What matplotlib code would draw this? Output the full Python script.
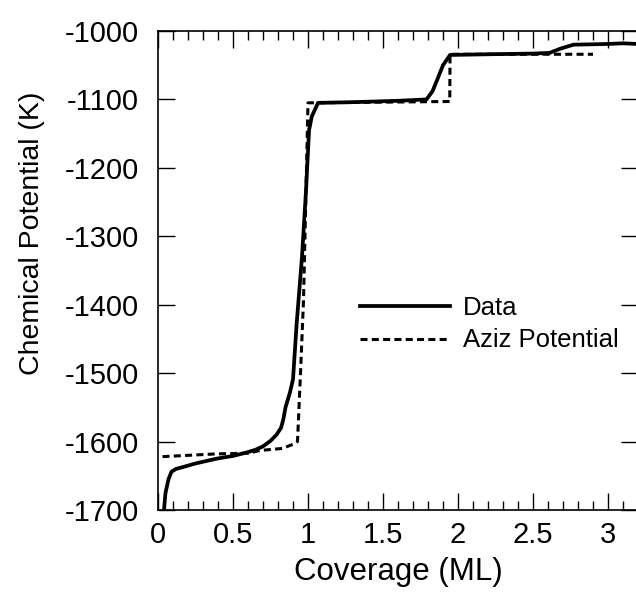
import matplotlib
matplotlib.use("Agg")
import matplotlib.pyplot as plt
from matplotlib.ticker import MultipleLocator

plt.rcParams['font.family'] = ['Liberation Sans', 'DejaVu Sans']
plt.rcParams['axes.unicode_minus'] = False

# Measured data (solid)
data_x = [0.04, 0.05, 0.07, 0.09, 0.12, 0.17, 0.25, 0.39, 0.50, 0.59, 0.65, 0.70, 0.75,
          0.79, 0.82, 0.835, 0.85, 0.88, 0.90, 0.925, 0.96, 0.987, 1.007, 1.025, 1.067, 1.30,
          1.60, 1.79, 1.83, 1.86, 1.90, 1.947, 2.20, 2.50, 2.61, 2.68, 2.77, 2.99, 3.10, 3.20]
data_y = [-1700, -1675, -1655, -1644, -1640, -1637, -1632, -1625, -1621, -1616, -1612, -1607, -1599,
          -1590, -1580, -1568, -1550, -1528, -1509, -1426, -1330, -1232, -1145, -1125, -1105, -1104,
          -1102, -1100, -1088, -1072, -1050, -1035, -1034, -1033, -1032, -1026, -1020, -1019, -1018, -1019]

# Aziz potential (dashed)
aziz_x = [0.03, 0.39, 0.60, 0.68, 0.83, 0.90, 0.93, 0.95, 0.97, 0.985, 1.00, 1.50, 1.945, 1.947, 2.50, 2.90]
aziz_y = [-1622, -1618, -1617, -1613, -1610, -1604, -1600, -1500, -1394, -1250, -1105, -1104, -1103, -1034, -1034, -1034]

x_ticks = [0, 0.5, 1, 1.5, 2, 2.5, 3]
x_tick_labels = ['0', '0.5', '1', '1.5', '2', '2.5', '3']
y_ticks = [-1700, -1600, -1500, -1400, -1300, -1200, -1100, -1000]

fig = plt.figure(figsize=(6.36, 6.03), dpi=100)
ax = fig.add_axes([158/636, 93/603, 480/636, 479/603])

ax.plot(data_x, data_y, color='black', lw=2.7, solid_joinstyle='round', label='Data')
ax.plot(aziz_x, aziz_y, color='black', lw=2.2, dashes=(2.3, 1.4), label='Aziz Potential')

ax.set_xlim(0, 3.2)
ax.set_ylim(-1700, -1000)
ax.set_xticks(x_ticks)
ax.set_xticklabels(x_tick_labels)
ax.set_yticks(y_ticks)
ax.xaxis.set_minor_locator(MultipleLocator(0.1))

ax.tick_params(axis='both', which='major', direction='in', length=12, width=1,
               labelsize=21, top=True, right=True)
ax.tick_params(axis='y', which='major', pad=14)
ax.tick_params(axis='x', which='major', pad=8)
ax.tick_params(axis='x', which='minor', direction='in', length=6.5, width=1, top=True, bottom=True)
ax.tick_params(axis='y', which='minor', left=False, right=False)

for s in ax.spines.values():
    s.set_linewidth(1.2)

ax.set_xlabel('Coverage (ML)', fontsize=22.5, labelpad=6)
ax.set_ylabel('Chemical Potential (K)', fontsize=20.5)
ax.yaxis.set_label_coords((45-158)/480, (510-233)/479)

ax.legend(loc='center left', bbox_to_anchor=((360-158)/480, (510-324)/479), frameon=False,
          fontsize=18.5, handlelength=3.5, handletextpad=0.5, labelspacing=0.35,
          borderpad=0, borderaxespad=0)

fig.savefig('out.png', dpi=100)
